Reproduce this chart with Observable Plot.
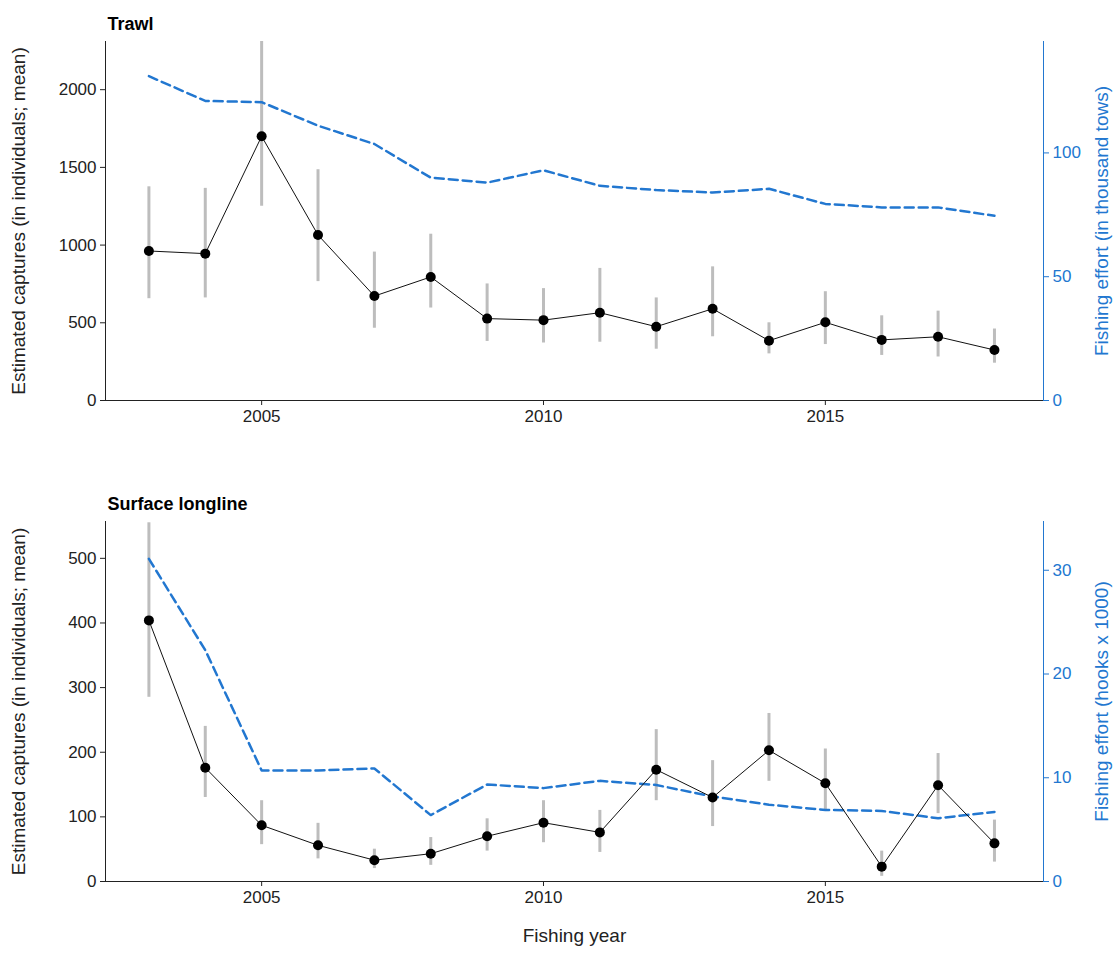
<!DOCTYPE html>
<html><head><meta charset="utf-8">
<script src="https://cdn.jsdelivr.net/npm/d3@7"></script>
<script src="https://cdn.jsdelivr.net/npm/@observablehq/plot@0.6"></script>
<style>
body{margin:0;background:#fff;font-family:"Liberation Sans",Arial,sans-serif}
svg g[aria-label$="tick label"] text{font-size:17px !important}
svg g[aria-label$="axis label"] text{font-size:19px !important}
</style>
</head><body><div id="chart"></div>
<script>
const years = d3.range(2003, 2019);

const trawlMean = [962, 945, 1700, 1065, 672, 795, 527, 517, 565, 475, 590, 385, 503, 390, 410, 325];
const trawlLow  = [655, 660, 1250, 765, 465, 595, 380, 370, 375, 330, 410, 300, 360, 290, 280, 240];
const trawlHigh = [1375, 1365, 2310, 1485, 955, 1070, 750, 720, 850, 660, 860, 500, 700, 545, 575, 460];
const trawlEffort = [131, 121, 120.5, 111, 103.6, 90, 88, 93, 86.7, 85, 84, 85.5, 79.4, 78, 78, 74.6];

const sllMean = [404, 176, 87, 56, 33, 43, 70, 91, 76, 173, 130, 203, 152, 23, 149, 59];
const sllLow  = [285, 130, 57, 35, 20, 25, 47, 60, 45, 125, 85, 155, 110, 8, 105, 30];
const sllHigh = [555, 240, 125, 90, 50, 68, 97, 125, 110, 235, 187, 260, 205, 47, 198, 95];
const sllEffort = [31.1, 22.3, 10.7, 10.7, 10.9, 6.4, 9.35, 9.0, 9.7, 9.3, 8.2, 7.4, 6.9, 6.8, 6.1, 6.7];

const blue = "#2277d0";

function panel({title, mean, low, high, effort, yMax, rMax, yTicks, rTicks, rLabel, height, marginBottom, xLabel}) {
  const k = yMax / rMax;
  const data = years.map((y, i) => ({year: y, mean: mean[i], low: low[i], high: high[i], effort: effort[i] * k}));
  return Plot.plot({
    width: 1115, height,
    marginLeft: 105, marginRight: 72, marginTop: 41, marginBottom,
    style: {fontFamily: "Liberation Sans, Arial, sans-serif", fontSize: "17px", color: "#222"},
    x: {domain: [2002.23, 2018.87]},
    y: {domain: [0, yMax]},
    marks: [
      Plot.axisX({ticks: [2005, 2010, 2015], tickFormat: d => String(d), tickSize: 5, tickPadding: 4, label: xLabel, labelAnchor: "center", labelArrow: "none", labelOffset: 60}),
      Plot.axisY({ticks: yTicks, tickFormat: d => String(d), tickSize: 5, label: "Estimated captures (in individuals; mean)", labelAnchor: "center", labelArrow: "none", labelOffset: 94}),
      Plot.axisY({anchor: "right", ticks: rTicks.map(v => v * k), tickFormat: v => String(Math.round(v / k)), tickSize: 5, stroke: blue, fill: blue, color: blue, label: rLabel, labelAnchor: "center", labelArrow: "none", labelOffset: 64}),
      Plot.frame({anchor: "left", stroke: "#222"}),
      Plot.frame({anchor: "bottom", stroke: "#222"}),
      Plot.frame({anchor: "right", stroke: blue}),
      Plot.ruleX(data, {x: "year", y1: "low", y2: "high", stroke: "#bdbdbd", strokeWidth: 3}),
      Plot.line(data, {x: "year", y: "effort", stroke: blue, strokeWidth: 2.5, strokeDasharray: "9,5"}),
      Plot.line(data, {x: "year", y: "mean", stroke: "#111", strokeWidth: 1}),
      Plot.dot(data, {x: "year", y: "mean", r: 5, fill: "#000"}),
      Plot.text([title], {frameAnchor: "top-left", dy: -24, dx: 2, fontWeight: "bold", fontSize: 18, fill: "#000"})
    ]
  });
}

const c1 = panel({title: "Trawl", mean: trawlMean, low: trawlLow, high: trawlHigh, effort: trawlEffort,
  yMax: 2310, rMax: 145, yTicks: [0, 500, 1000, 1500, 2000], rTicks: [0, 50, 100],
  rLabel: "Fishing effort (in thousand tows)", height: 480, marginBottom: 80, xLabel: null});
const c2 = panel({title: "Surface longline", mean: sllMean, low: sllLow, high: sllHigh, effort: sllEffort,
  yMax: 557, rMax: 34.7, yTicks: [0, 100, 200, 300, 400, 500], rTicks: [0, 10, 20, 30],
  rLabel: "Fishing effort (hooks x 1000)", height: 477, marginBottom: 76, xLabel: "Fishing year"});

[c1, c2].forEach(c => d3.select("#chart").append(() => c));
</script>
</body></html>
